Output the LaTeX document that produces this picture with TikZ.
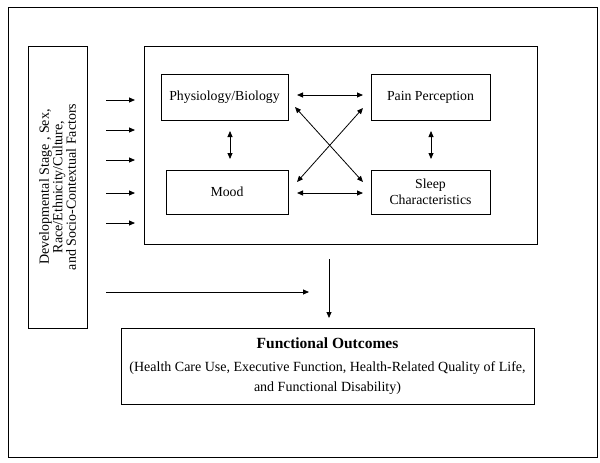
\documentclass[tikz,border=0pt]{standalone}
\usepackage{fontspec}
\setmainfont{Liberation Serif}
\usetikzlibrary{arrows.meta}
\begin{document}
\begin{tikzpicture}[x=1pt,y=-1pt,
  box/.style={draw,line width=0.9pt,inner sep=0pt},
  lbl/.style={font=\fontsize{13.8}{16}\selectfont,align=center},
  arr/.style={-{Triangle[length=6pt,width=5pt]},line width=0.8pt},
  darr/.style={{Triangle[length=6pt,width=5pt]}-{Triangle[length=6pt,width=5pt]},line width=0.8pt}]
\useasboundingbox (0,0) rectangle (600,463);
\draw[line width=0.9pt] (8,7) rectangle (597,457);
% left factor box
\node[box,minimum width=59pt,minimum height=282pt] (left) at (57.5,187) {};
\node[font=\fontsize{14}{13.5}\selectfont,align=center,rotate=90] (lefttxt) at (left.center) {Developmental Stage , Sex,\\Race/Ethnicity/Culture,\\and Socio-Contextual Factors};
% main box
\node[box,minimum width=393pt,minimum height=198pt] (main) at (341,145) {};
\node[box,minimum width=127pt,minimum height=46pt,lbl] (phys) at (224.5,97) {Physiology/Biology};
\node[box,minimum width=119pt,minimum height=46pt,lbl] (pain) at (430.5,97) {Pain Perception};
\node[box,minimum width=122pt,minimum height=44pt,lbl] (mood) at (227,192) {Mood};
\node[box,minimum width=119pt,minimum height=44pt,lbl] (sleep) at (430.5,192) {Sleep\\Characteristics};
% outcome box
\node[box,minimum width=413pt,minimum height=76pt] (out) at (327.5,366) {};
\node[font=\fontsize{15.5}{18}\selectfont\bfseries] (outt) at (327.5,343) {Functional Outcomes};
\node[align=center,font=\fontsize{14}{20}\selectfont] (outs) at (327.5,378) {(Health Care Use, Executive Function, Health-Related Quality of Life,\\and Functional Disability)};
% left arrows
\foreach \i/\y in {1/100,2/130,3/160,4/193,5/223}{
  \coordinate (a\i s) at (106,\y);
  \coordinate (a\i e) at (135,\y);
  \draw[arr] (a\i s) -- (a\i e);
}
\coordinate (ls) at (106,292);
\coordinate (le) at (309,292);
\draw[arr] (ls) -- (le);
\coordinate (vs) at (329,259);
\coordinate (ve) at (329,318);
\draw[arr] (vs) -- (ve);
% inner arrows
\coordinate (t1) at (297,95); \coordinate (t2) at (363,95);
\draw[darr] (t1) -- (t2);
\coordinate (b1) at (297,193); \coordinate (b2) at (363,193);
\draw[darr] (b1) -- (b2);
\coordinate (l1) at (230,131); \coordinate (l2) at (230,159);
\draw[darr] (l1) -- (l2);
\coordinate (r1) at (431,131); \coordinate (r2) at (431,159);
\draw[darr] (r1) -- (r2);
\coordinate (d1) at (295,107); \coordinate (d2) at (363,182);
\draw[darr] (d1) -- (d2);
\coordinate (e1) at (363,108); \coordinate (e2) at (297,182);
\draw[darr] (e1) -- (e2);
\end{tikzpicture}
\end{document}
